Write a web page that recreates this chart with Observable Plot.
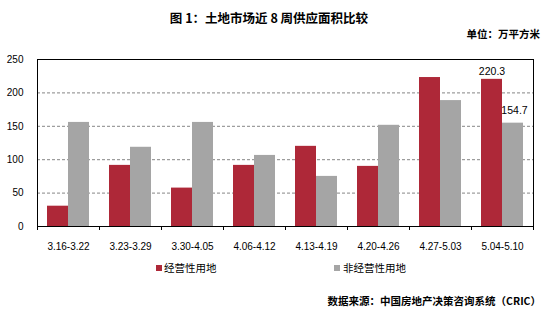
<!DOCTYPE html>
<html>
<head>
<meta charset="utf-8">
<script src="https://cdn.jsdelivr.net/npm/d3@7"></script>
<script src="https://cdn.jsdelivr.net/npm/@observablehq/plot@0.6"></script>
<style>
  html, body { margin: 0; padding: 0; background: #fff; }
  #wrap { position: relative; width: 546px; height: 314px; overflow: hidden; font-family: "Liberation Sans", Arial, "Noto Sans CJK SC", sans-serif; }
  .abs { position: absolute; white-space: nowrap; line-height: 1; }
  #title { left: 0; width: 538px; top: 8px; text-align: center; font: bold 12.5px "Noto Sans CJK SC", sans-serif; color: #000; }
  #unit { right: 6px; top: 26px; font: bold 10.5px "Noto Sans CJK SC", sans-serif; color: #000; }
  #chart { position: absolute; left: 0; top: 40px; }
  #legend { left: 0; top: 260px; width: 546px; height: 16px; font: 10.5px "Noto Sans CJK SC", sans-serif; color: #000; }
  .sw { position: absolute; width: 6px; height: 6px; top: 5px; }
  .lt { position: absolute; top: 0px; line-height: 16px; }
  #source { right: 5px; top: 293px; font: bold 10.5px "Noto Sans CJK SC", sans-serif; color: #000; }
</style>
</head>
<body>
<div id="wrap">
  <div id="title" class="abs"></div>
  <div id="unit" class="abs"></div>
  <div id="chart"></div>
  <div id="legend" class="abs"></div>
  <div id="source" class="abs"></div>
</div>
<script>
// ---- data ----
const titleText = "图 1：土地市场近 8 周供应面积比较";
const unitText = "单位：万平方米";
const sourceText = "数据来源：中国房地产决策咨询系统（CRIC）";
const weeks = ["3.16-3.22", "3.23-3.29", "3.30-4.05", "4.06-4.12", "4.13-4.19", "4.20-4.26", "4.27-5.03", "5.04-5.10"];
const seriesNames = ["经营性用地", "非经营性用地"];
const operating = [30.4, 91.5, 57.5, 91.5, 120, 90, 223, 220.3];
const nonOperating = [155.8, 118.6, 155.8, 106.4, 75, 151.5, 188.5, 154.7];
const yTicks = [0, 50, 100, 150, 200, 250];
const gridTicks = [50, 100, 150, 200];
const colors = ["#AE2838", "#A5A5A5"];

// ---- build rows ----
const opRows = weeks.map((w, i) => ({week: w, value: operating[i]}));
const nonRows = weeks.map((w, i) => ({week: w, value: nonOperating[i]}));
const lastOp = [opRows[opRows.length - 1]];
const lastNon = [nonRows[nonRows.length - 1]];

document.getElementById("title").textContent = titleText;
document.getElementById("unit").textContent = unitText;
document.getElementById("source").textContent = sourceText;

const chart = Plot.plot({
  width: 546,
  height: 220,
  marginTop: 19,
  marginBottom: 34,
  marginLeft: 37,
  marginRight: 13,
  style: {fontFamily: "'Liberation Sans', Arial, sans-serif", fontSize: "10px", color: "#000", background: "transparent"},
  x: {type: "band", domain: weeks, padding: 0, tickSize: 0, tickPadding: 16, label: null},
  y: {domain: [0, 250], ticks: yTicks, tickSize: 0, tickPadding: 14, label: null},
  marks: [
    Plot.ruleY(gridTicks, {stroke: "#868686", strokeWidth: 1, strokeDasharray: "3,2"}),
    Plot.barY(opRows, {x: "week", y: "value", fill: colors[0], insetLeft: 10, insetRight: 31}),
    Plot.barY(nonRows, {x: "week", y: "value", fill: colors[1], insetLeft: 31, insetRight: 10}),
    Plot.frame({stroke: "#000", strokeWidth: 1}),
    Plot.ruleX(weeks, {x: d => d, y1: 0, y2: 0, dx: -31, insetBottom: -4, stroke: "#000"}),
    Plot.ruleX([weeks[weeks.length - 1]], {x: d => d, y1: 0, y2: 0, dx: 31, insetBottom: -4, stroke: "#000"}),
    Plot.text(lastOp, {x: "week", y: "value", text: d => d.value.toFixed(1), dx: -10.5, dy: -8, fontSize: 10.5, fill: "#000"}),
    Plot.text(lastNon, {x: "week", y: "value", text: d => d.value.toFixed(1), dx: 12, dy: -13, fontSize: 10.5, fill: "#000"})
  ]
});
document.getElementById("chart").appendChild(chart);

// ---- legend ----
const legend = document.getElementById("legend");
const legendPos = [{sw: 156, tx: 164}, {sw: 334, tx: 343}];
seriesNames.forEach((name, i) => {
  const s = document.createElement("div");
  s.className = "sw";
  s.style.left = legendPos[i].sw + "px";
  s.style.background = colors[i];
  legend.appendChild(s);
  const t = document.createElement("div");
  t.className = "lt";
  t.style.left = legendPos[i].tx + "px";
  t.textContent = name;
  legend.appendChild(t);
});
</script>
</body>
</html>
